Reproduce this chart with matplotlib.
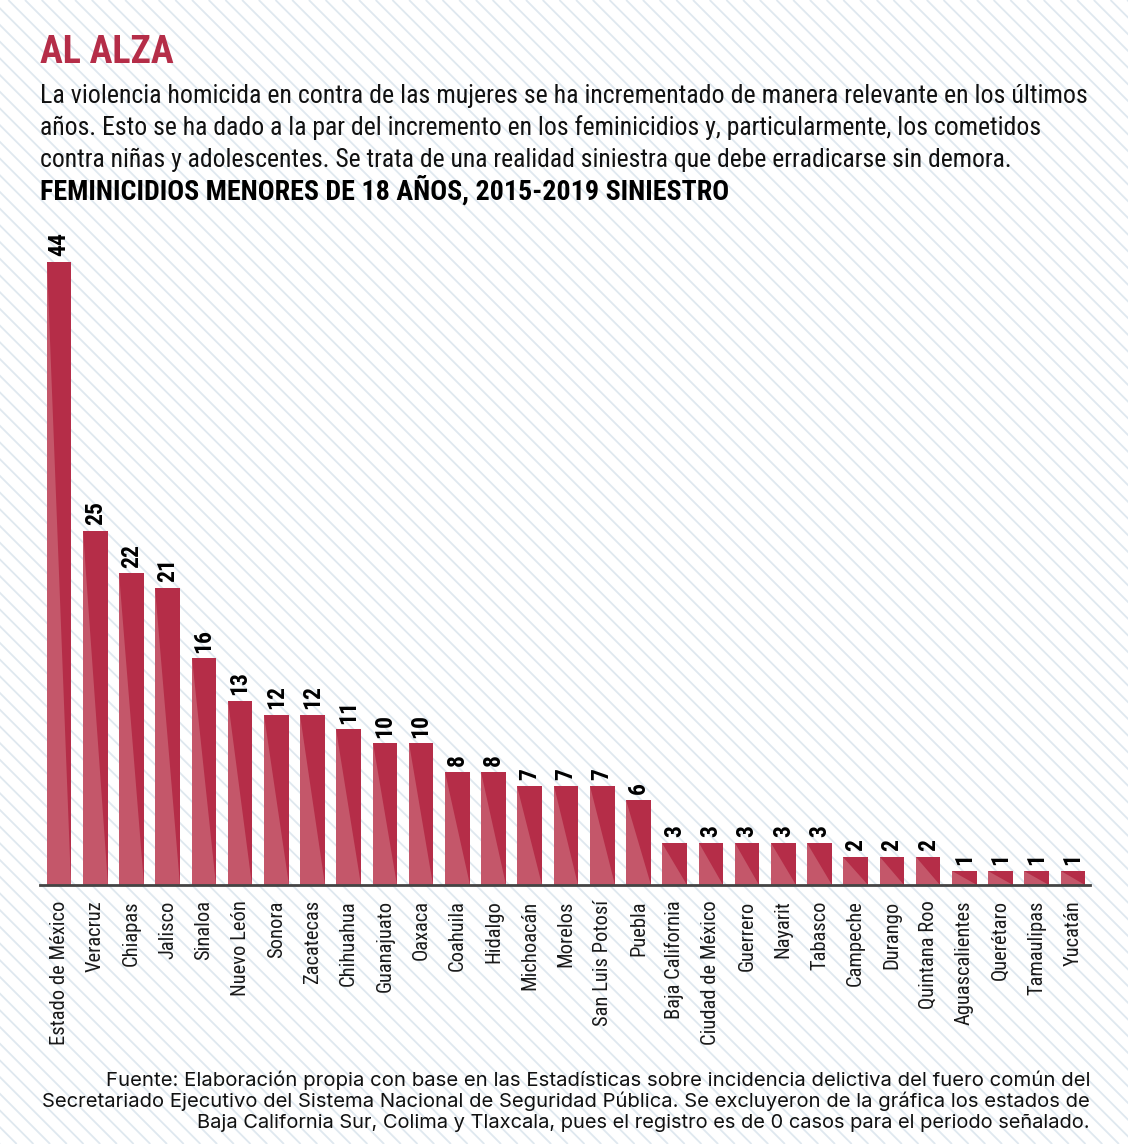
import numpy as np
import matplotlib
matplotlib.use("Agg")
import matplotlib.pyplot as plt
from matplotlib import font_manager
from matplotlib.patches import Polygon

# data
states = ["Estado de México", "Veracruz", "Chiapas", "Jalisco", "Sinaloa",
          "Nuevo León", "Sonora", "Zacatecas", "Chihuahua", "Guanajuato",
          "Oaxaca", "Coahuila", "Hidalgo", "Michoacán", "Morelos",
          "San Luis Potosí", "Puebla", "Baja California", "Ciudad de México",
          "Guerrero", "Nayarit", "Tabasco", "Campeche", "Durango",
          "Quintana Roo", "Aguascalientes", "Querétaro", "Tamaulipas", "Yucatán"]
values = [44, 25, 22, 21, 16, 13, 12, 12, 11, 10, 10, 8, 8, 7, 7, 7, 6,
          3, 3, 3, 3, 3, 2, 2, 2, 1, 1, 1, 1]

title = "AL ALZA"
intro = ["La violencia homicida en contra de las mujeres se ha incrementado de manera relevante en los últimos",
         "años. Esto se ha dado a la par del incremento en los feminicidios y, particularmente, los cometidos",
         "contra niñas y adolescentes. Se trata de una realidad siniestra que debe erradicarse sin demora."]
subtitle = "FEMINICIDIOS MENORES DE 18 AÑOS, 2015-2019 SINIESTRO"
source = ["Fuente: Elaboración propia con base en las Estadísticas sobre incidencia delictiva del fuero común del",
          "Secretariado Ejecutivo del Sistema Nacional de Seguridad Pública. Se excluyeron de la gráfica los estados de",
          "Baja California Sur, Colima y Tlaxcala, pues el registro es de 0 casos para el periodo señalado."]

#fonts: prefer a condensed face if one is installed
names = set(f.name for f in font_manager.fontManager.ttflist)
cond = "Roboto"
for cand in ["Roboto Condensed", "Liberation Sans Narrow"]:
    if cand in names:
        cond = cand
        break

RED = "#b52d48"
LIGHT = "#c4576a"
W, H = 1128, 1144

fig = plt.figure(figsize=(W / 100, H / 100), dpi=100)
fig.patch.set_facecolor("white")

#diagonal background lines
bg = fig.add_axes([0, 0, 1, 1], zorder=-10)
bg.set_xlim(0, W)
bg.set_ylim(0, H)
bg.axis("off")
for c in np.arange(-H, W, 16.7):
    bg.plot([c, c + H], [H, 0], color="#dfe8ef", lw=1.3, solid_capstyle="butt")

#bars
ax = fig.add_axes([42 / W, 1 - 885 / H, 1048 / W, 680 / H])
ax.patch.set_alpha(0)
x = np.arange(len(states))
bars = ax.bar(x, values, width=0.68, color=LIGHT, zorder=2)
for b in bars:
    x0, w, h = b.get_x(), b.get_width(), b.get_height()
    ax.add_patch(Polygon([(x0, h), (x0 + w, h), (x0 + w, 0)], closed=True,
                         facecolor=RED, edgecolor="none", zorder=3))
for b, v in zip(bars, values):
    ax.annotate(str(v), (b.get_x() + b.get_width() / 2, v), xytext=(0, 4),
                textcoords="offset points", rotation=90, ha="center", va="bottom",
                fontsize=17, fontweight="black", family=[cond, "DejaVu Sans"], color="#000000")

ax.set_xlim(-0.47, len(states) - 0.53)
ax.set_ylim(0, 48)
ax.axhline(0, xmin=-0.002, xmax=1, color="#444444", lw=2, zorder=4, clip_on=False)
for s in ax.spines.values():
    s.set_visible(False)
ax.set_yticks([])
ax.set_xticks(x)
ax.set_xticklabels(states, rotation=90, fontsize=14.8, family=[cond, "DejaVu Sans"], color="#1a1a1a")
ax.tick_params(axis="x", length=0, pad=11)

#text blocks, sized to the widths measured on the reference
def fit(t, width_px):
    r = fig.canvas.get_renderer()
    bw = t.get_window_extent(r).width
    t.set_fontsize(t.get_fontsize() * width_px / bw)

t = fig.text(40 / W, 1 - 63 / H, title, fontsize=28, fontweight="black", color=RED,
             family=[cond, "DejaVu Sans"], va="baseline")
fit(t, 134)
for i, line in enumerate(intro):
    t = fig.text(40 / W, 1 - (103 + 32 * i) / H, line, fontsize=18, color="#111111",
                 family=[cond, "DejaVu Sans"], va="baseline")
    fit(t, [1048, 1002, 974][i])
t = fig.text(40 / W, 1 - 200 / H, subtitle, fontsize=19, fontweight="bold", color="#000000",
             family=[cond, "DejaVu Sans"], va="baseline")
fit(t, 688)
for i, line in enumerate(source):
    t = fig.text(1090 / W, 1 - (1086 + 21 * i) / H, line, fontsize=12.5, color="#111111",
                 family=["Inter", "DejaVu Sans"], ha="right", va="baseline")
    fit(t, [983, 1048, 895][i])

fig.savefig("out.png", dpi=100)
